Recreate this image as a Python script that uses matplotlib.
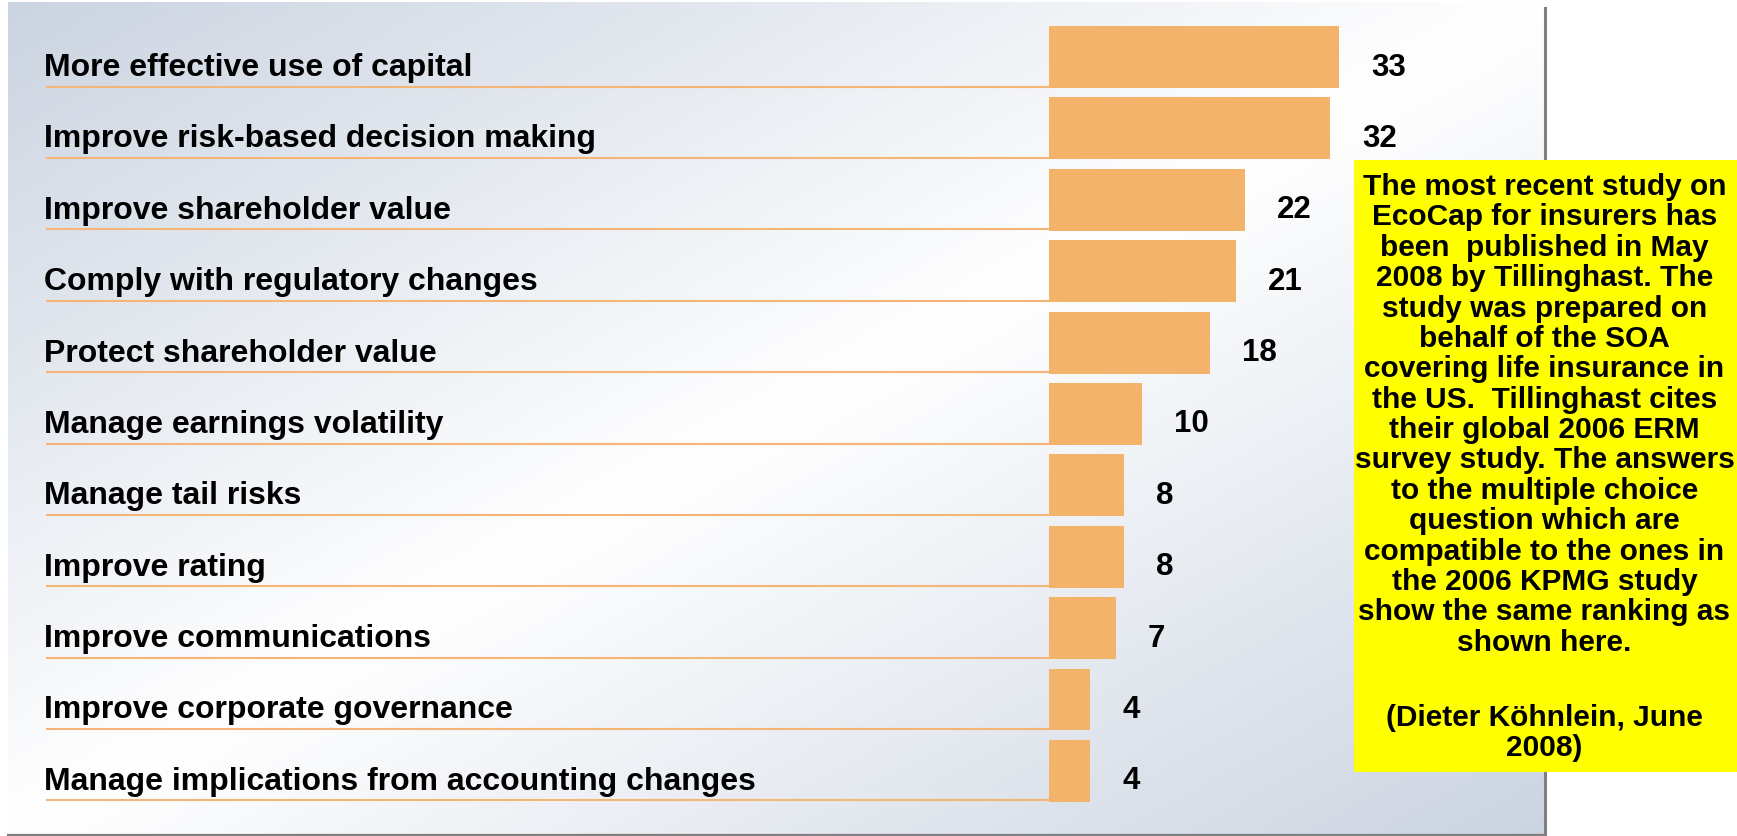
import numpy as np
import matplotlib
matplotlib.use("Agg")
import matplotlib.pyplot as plt
from matplotlib.patches import Rectangle
from matplotlib.lines import Line2D

# ---------------- data ----------------
categories = [
    "More effective use of capital",
    "Improve risk-based decision making",
    "Improve shareholder value",
    "Comply with regulatory changes",
    "Protect shareholder value",
    "Manage earnings volatility",
    "Manage tail risks",
    "Improve rating",
    "Improve communications",
    "Improve corporate governance",
    "Manage implications from accounting changes",
]
values = [33, 32, 22, 21, 18, 10, 8, 8, 7, 4, 4]

note_text = ("The most recent study on\n"
             "EcoCap for insurers has\n"
             "been  published in May\n"
             "2008 by Tillinghast. The\n"
             "study was prepared on\n"
             "behalf of the SOA\n"
             "covering life insurance in\n"
             "the US.  Tillinghast cites\n"
             "their global 2006 ERM\n"
             "survey study. The answers\n"
             "to the multiple choice\n"
             "question which are\n"
             "compatible to the ones in\n"
             "the 2006 KPMG study\n"
             "show the same ranking as\n"
             "shown here.")
note_author = "(Dieter Köhnlein, June\n2008)"

# ---------------- style ----------------
W, H, DPI = 1737, 836, 100
BAR = "#F4B36B"
ULINE = "#F5B578"
GREY = "#7F7F7F"
BLUE = np.array([203, 212, 225]) / 255.0

plt.rcParams['font.family'] = ['Liberation Sans', 'DejaVu Sans']

fig = plt.figure(figsize=(W / DPI, H / DPI), dpi=DPI)
fig.patch.set_facecolor("white")

# background gradient panel
pl, pt, pr, pb = 8, 2, 1545, 835
bg = fig.add_axes([pl / W, 1 - pb / H, (pr - pl) / W, (pb - pt) / H], zorder=0)
ny, nx = 300, 600
u = np.linspace(0, 1, nx)[None, :]
v = np.linspace(0, 1, ny)[:, None]
t = np.abs(u + v - 1.0)
img = 1.0 - (1.0 - BLUE)[None, None, :] * t[:, :, None]
bg.imshow(img, aspect="auto", extent=(0, 1, 0, 1), origin="upper", interpolation="bilinear")
bg.set_axis_off()

# main bar axes (spans figure; limits map data to pixel layout)
ppu = 8.586          # pixels per unit
zero_px = 1055.7     # pixel x of value 0
row0_px = 57.0       # pixel y of first row centre
pitch = 71.39        # pixel distance between rows
ax = fig.add_axes([0, 0, 1, 1], zorder=2)
ax.patch.set_visible(False)
ax.set_axis_off()
ax.set_xlim(-zero_px / ppu, (W - zero_px) / ppu)
ax.set_ylim((H - row0_px) / pitch, -row0_px / pitch)

n = len(categories)
y = np.arange(n)
bar_h = 0.868
bar_start = -0.78
vals = np.array(values, dtype=float)

label_x = (44 - zero_px) / ppu
uline_x0 = (46 - zero_px) / ppu
ax.hlines(y + bar_h / 2 - 0.02, uline_x0, bar_start + 0.1, color=ULINE, lw=1.5, zorder=1)
ax.barh(y, vals - bar_start, left=bar_start, height=bar_h, color=BAR, zorder=2)

px2pt = 72.0 / DPI
for yi, cat in zip(y, categories):
    ax.annotate(cat, xy=(label_x, yi + bar_h / 2), xytext=(0, 12 * px2pt),
                textcoords="offset points", ha="left", va="baseline",
                fontsize=23, fontweight="bold", color="black")
for yi, val in zip(y, values):
    ax.annotate(f"{val}", xy=(val, yi), xytext=(32 * px2pt, -18.5 * px2pt),
                textcoords="offset points", ha="left", va="baseline",
                fontsize=22.5, fontweight="bold", color="black")

# frame lines
fig.add_artist(Line2D([pr / W, pr / W], [1 - 8 / H, 1 - 835 / H], color=GREY, lw=2.2,
                      transform=fig.transFigure, zorder=3))
fig.add_artist(Line2D([pl / W, pr / W], [1 - 834.5 / H, 1 - 834.5 / H], color=GREY, lw=1.6,
                      transform=fig.transFigure, zorder=3))

# yellow note box
bx0, bx1, by0, by1 = 1354, 1737, 160, 772
fig.add_artist(Rectangle((bx0 / W, 1 - by1 / H), (bx1 - bx0) / W, (by1 - by0) / H,
                         transform=fig.transFigure, facecolor="#FFFF00", edgecolor="none",
                         zorder=4))
cx = 1544.5 / W
fig.text(cx, 1 - 173 / H, note_text, ha="center", va="top", fontsize=21.5,
         fontweight="bold", linespacing=1.108, zorder=5)
fig.text(cx, 1 - 704 / H, note_author, ha="center", va="top", fontsize=21.5,
         fontweight="bold", linespacing=1.108, zorder=5)

fig.savefig("out.png", dpi=DPI)
